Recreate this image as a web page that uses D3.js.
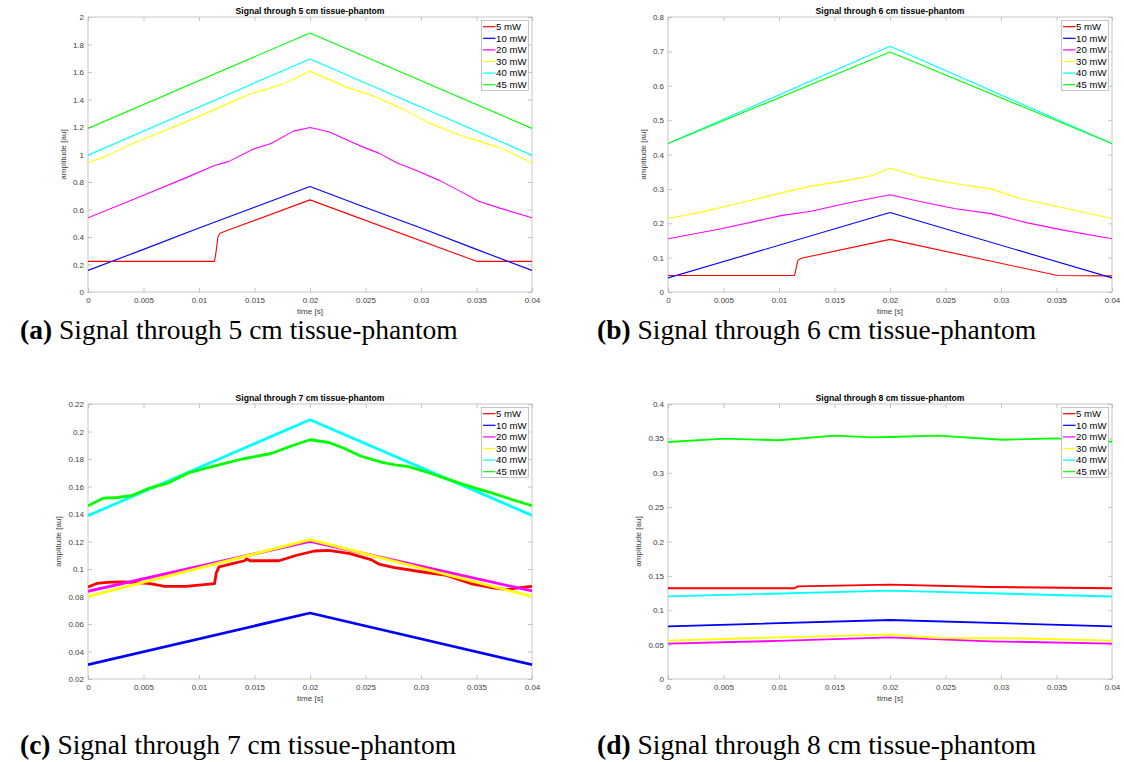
<!DOCTYPE html>
<html>
<head>
<meta charset="utf-8">
<script src="https://cdn.jsdelivr.net/npm/d3@7"></script>
<style>
  body { margin: 0; background: #fff; }
  svg { display: block; }
</style>
</head>
<body>
<svg id="fig" width="1124" height="762"></svg>
<script>
// legend entries and line colours (MATLAB plain colours)
var powers = ["5 mW", "10 mW", "20 mW", "30 mW", "40 mW", "45 mW"];
var lineColors = ["#ff0000", "#0000ff", "#ff00ff", "#ffff00", "#00ffff", "#00ff00"];

var panelTitles = [
  "Signal through 5 cm tissue-phantom",
  "Signal through 6 cm tissue-phantom",
  "Signal through 7 cm tissue-phantom",
  "Signal through 8 cm tissue-phantom"
];
var captionLetters = ["(a)", "(b)", "(c)", "(d)"];

var xTicks = [0, 0.005, 0.01, 0.015, 0.02, 0.025, 0.03, 0.035, 0.04];
var yDomains = [[0, 2], [0, 0.8], [0.02, 0.22], [0, 0.4]];
var yTicks5 = [0, 0.2, 0.4, 0.6, 0.8, 1, 1.2, 1.4, 1.6, 1.8, 2];
var yTicks6 = [0, 0.1, 0.2, 0.3, 0.4, 0.5, 0.6, 0.7, 0.8];
var yTicks7 = [0.02, 0.04, 0.06, 0.08, 0.1, 0.12, 0.14, 0.16, 0.18, 0.2, 0.22];
var yTicks8 = [0, 0.05, 0.1, 0.15, 0.2, 0.25, 0.3, 0.35, 0.4];

// [time s, amplitude au], one list per laser power (5,10,20,30,40,45 mW)
var sig5cm = [
  [[0,0.223],[0.0114,0.223],[0.01155,0.30],[0.0117,0.40],[0.0119,0.428],[0.0127,0.452],[0.02,0.67],[0.035,0.223],[0.04,0.223]],
  [[0,0.157],[0.005,0.31],[0.01,0.465],[0.015,0.617],[0.02,0.768],[0.025,0.615],[0.03,0.465],[0.035,0.31],[0.04,0.157]],
  [[0,0.54],[0.0049,0.70],[0.0088,0.83],[0.0114,0.92],[0.0127,0.95],[0.0149,1.04],[0.0165,1.08],[0.0185,1.17],[0.02,1.196],[0.0217,1.165],[0.0239,1.085],[0.0249,1.05],[0.0262,1.01],[0.0278,0.94],[0.0297,0.88],[0.0317,0.81],[0.0336,0.73],[0.0352,0.66],[0.0371,0.61],[0.04,0.54]],
  [[0,0.94],[0.0017,0.99],[0.004,1.08],[0.0065,1.16],[0.0098,1.27],[0.012,1.35],[0.0146,1.44],[0.0175,1.51],[0.02,1.605],[0.021,1.57],[0.0233,1.49],[0.0259,1.42],[0.0284,1.33],[0.0307,1.23],[0.0333,1.145],[0.0355,1.09],[0.0371,1.05],[0.04,0.94]],
  [[0,0.995],[0.02,1.695],[0.04,0.995]],
  [[0,1.19],[0.02,1.884],[0.04,1.19]]
];
var sig6cm = [
  [[0,0.048],[0.0114,0.048],[0.01155,0.07],[0.0117,0.092],[0.012,0.098],[0.02,0.153],[0.0351,0.048],[0.04,0.047]],
  [[0,0.041],[0.02,0.231],[0.04,0.041]],
  [[0,0.155],[0.0048,0.184],[0.0103,0.223],[0.0129,0.235],[0.0161,0.258],[0.02,0.283],[0.0226,0.264],[0.0259,0.242],[0.0291,0.228],[0.0324,0.201],[0.0356,0.18],[0.04,0.155]],
  [[0,0.214],[0.0031,0.233],[0.0064,0.258],[0.0103,0.289],[0.0129,0.308],[0.0161,0.324],[0.0184,0.339],[0.02,0.361],[0.0226,0.335],[0.0259,0.315],[0.0291,0.300],[0.0317,0.272],[0.0356,0.245],[0.04,0.214]],
  [[0,0.432],[0.02,0.715],[0.04,0.432]],
  [[0,0.432],[0.02,0.698],[0.04,0.432]]
];
var sig7cm = [
  [[0,0.0869],[0.0008,0.0895],[0.002,0.0905],[0.0033,0.0906],[0.0056,0.0893],[0.0069,0.0874],[0.0088,0.0874],[0.0114,0.0893],[0.01155,0.097],[0.0118,0.1015],[0.013,0.1039],[0.0141,0.106],[0.0143,0.1075],[0.0146,0.106],[0.0172,0.106],[0.0188,0.110],[0.0204,0.1131],[0.0217,0.1136],[0.0236,0.1112],[0.0255,0.1068],[0.0262,0.1036],[0.0275,0.1012],[0.03,0.098],[0.0323,0.0954],[0.0346,0.0891],[0.0365,0.0862],[0.0378,0.085],[0.0387,0.0862],[0.04,0.0874]],
  [[0,0.0304],[0.02,0.068],[0.04,0.0304]],
  [[0,0.0838],[0.02,0.1201],[0.04,0.084]],
  [[0,0.080],[0.02,0.1213],[0.04,0.080]],
  [[0,0.1388],[0.02,0.2086],[0.04,0.139]],
  [[0,0.146],[0.0014,0.1516],[0.0027,0.152],[0.004,0.1536],[0.0056,0.159],[0.0072,0.1625],[0.0091,0.170],[0.0114,0.175],[0.0139,0.18],[0.0165,0.184],[0.0185,0.19],[0.02,0.194],[0.0217,0.192],[0.023,0.188],[0.0246,0.182],[0.0265,0.1776],[0.0278,0.1756],[0.0288,0.1747],[0.0307,0.170],[0.0323,0.1655],[0.0346,0.1596],[0.0365,0.155],[0.0384,0.150],[0.04,0.146]]
];
var sig8cm = [
  [[0,0.132],[0.0114,0.132],[0.0117,0.1348],[0.02,0.1372],[0.029,0.1338],[0.04,0.132]],
  [[0,0.0766],[0.02,0.0858],[0.04,0.0766]],
  [[0,0.0514],[0.01,0.0555],[0.02,0.0606],[0.029,0.0548],[0.04,0.0514]],
  [[0,0.0558],[0.01,0.0606],[0.02,0.0645],[0.0243,0.0596],[0.0323,0.059],[0.04,0.0558]],
  [[0,0.1202],[0.02,0.1285],[0.04,0.120]],
  [[0,0.3447],[0.0051,0.3496],[0.01,0.3472],[0.015,0.354],[0.0184,0.3515],[0.02,0.352],[0.0243,0.354],[0.0301,0.348],[0.035,0.35],[0.04,0.345]]
];

var allSignals = [sig5cm, sig6cm, sig7cm, sig8cm];
var allYTicks = [yTicks5, yTicks6, yTicks7, yTicks8];

// layout
var plotW = 444, plotH = 275;
var lefts = [88, 668, 88, 668];
var tops = [17, 17, 404, 404];
var lineWidths = [1.1, 1.1, 2.8, 1.9];
var captionX = [20, 597, 20, 597];
var captionY = [339, 339, 754, 754];

var svg = d3.select("#fig");
svg.append("rect").attr("width", 1124).attr("height", 762).attr("fill", "#fff");

var tickFont = "Liberation Sans, Arial, Helvetica, sans-serif";
var fmt = function (d) { return String(+d.toFixed(4)); };

for (var p = 0; p < 4; p++) drawPanel(p);

function drawPanel(p) {
  var x = d3.scaleLinear().domain([0, 0.04]).range([0, plotW]);
  var y = d3.scaleLinear().domain(yDomains[p]).range([plotH, 0]);
  var g = svg.append("g").attr("transform", "translate(" + lefts[p] + "," + tops[p] + ")");

  // clip for the signal lines
  g.append("clipPath").attr("id", "clip" + p)
    .append("rect").attr("width", plotW).attr("height", plotH);

  // bottom / left axes with inward ticks
  var xAxis = g.append("g").attr("transform", "translate(0," + plotH + ")")
    .call(d3.axisBottom(x).tickValues(xTicks).tickFormat(fmt).tickSizeInner(-4).tickSizeOuter(0).tickPadding(5));
  var yAxis = g.append("g")
    .call(d3.axisLeft(y).tickValues(allYTicks[p]).tickFormat(fmt).tickSizeInner(-4).tickSizeOuter(0).tickPadding(4));
  // mirrored ticks top / right
  var xTop = g.append("g")
    .call(d3.axisTop(x).tickValues(xTicks).tickFormat("").tickSizeInner(-4).tickSizeOuter(0));
  var yRight = g.append("g").attr("transform", "translate(" + plotW + ",0)")
    .call(d3.axisRight(y).tickValues(allYTicks[p]).tickFormat("").tickSizeInner(-4).tickSizeOuter(0));

  [xAxis, yAxis, xTop, yRight].forEach(function (a) {
    a.selectAll(".domain").remove();
    a.selectAll(".tick line").attr("stroke", "#b5b5b5").attr("stroke-width", 0.8);
    a.selectAll("text").attr("font-family", tickFont).attr("font-size", 8).attr("fill", "#404040");
  });

  // box
  g.append("rect").attr("width", plotW).attr("height", plotH)
    .attr("fill", "none").attr("stroke", "#b8b8b8").attr("stroke-width", 0.8);

  // signals
  var line = d3.line().x(function (d) { return x(d[0]); }).y(function (d) { return y(d[1]); });
  g.append("g").attr("clip-path", "url(#clip" + p + ")")
    .selectAll("path").data(allSignals[p]).enter().append("path")
    .attr("d", line)
    .attr("fill", "none")
    .attr("stroke", function (d, i) { return lineColors[i]; })
    .attr("stroke-width", lineWidths[p])
    .attr("stroke-linejoin", "round");

  // title
  g.append("text").attr("x", plotW / 2).attr("y", -3)
    .attr("text-anchor", "middle").attr("font-family", tickFont)
    .attr("font-size", 8.6).attr("font-weight", "bold").attr("fill", "#000")
    .text(panelTitles[p]);

  // axis labels
  g.append("text").attr("x", plotW / 2).attr("y", plotH + 22)
    .attr("text-anchor", "middle").attr("font-family", tickFont)
    .attr("font-size", 8).attr("fill", "#404040").text("time [s]");

  var maxW = 0;
  yAxis.selectAll("text").each(function () { maxW = Math.max(maxW, this.getComputedTextLength()); });
  g.append("text")
    .attr("transform", "translate(" + (-maxW - 11) + "," + plotH / 2 + ") rotate(-90)")
    .attr("text-anchor", "middle").attr("font-family", tickFont)
    .attr("font-size", 8).attr("fill", "#404040").text("amplitude [au]");

  // legend
  var lg = g.append("g").attr("transform", "translate(" + (plotW - 50.5) + ",3.5)");
  lg.append("rect").attr("width", 47).attr("height", 70)
    .attr("fill", "#fff").attr("stroke", "#b8b8b8").attr("stroke-width", 0.8);
  powers.forEach(function (lab, i) {
    var yy = 6.2 + i * 11.6;
    lg.append("line").attr("x1", 1.5).attr("x2", 14).attr("y1", yy).attr("y2", yy)
      .attr("stroke", lineColors[i]).attr("stroke-width", 1.2);
    lg.append("text").attr("x", 14.6).attr("y", yy).attr("dy", "0.35em")
      .attr("font-family", tickFont).attr("font-size", 9.6).attr("fill", "#000")
      .text(lab);
  });

  // sub-caption below the panel
  var cap = svg.append("text").attr("x", captionX[p]).attr("y", captionY[p])
    .attr("font-family", "Liberation Serif, Times New Roman, serif").attr("font-size", 27.5)
    .attr("fill", "#000");
  cap.append("tspan").attr("font-weight", "bold").text(captionLetters[p]);
  cap.append("tspan").text(" " + panelTitles[p]);
}
</script>
</body>
</html>
